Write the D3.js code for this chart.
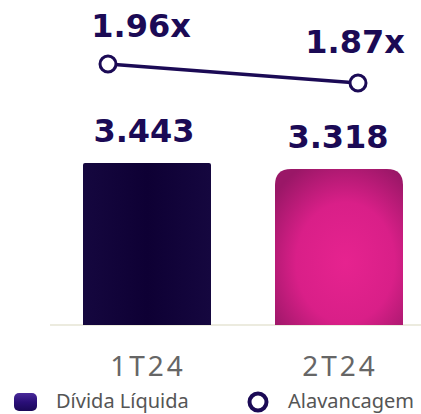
<!DOCTYPE html>
<html>
<head>
<meta charset="utf-8">
<script src="https://cdn.jsdelivr.net/npm/d3@7"></script>
<style>
  html, body { margin: 0; padding: 0; background: #fff; }
  svg { display: block; }
</style>
</head>
<body>
<script>
var categories = ["1T24", "2T24"];
var debt = [3443, 3318];
var debtLabels = ["3.443", "3.318"];
var leverage = [1.96, 1.87];
var leverageLabels = ["1.96x", "1.87x"];
var legendNames = ["Dívida Líquida", "Alavancagem"];

var width = 421, height = 414;
var baseY = 325;
var dark = "#1b0a55";

var svg = d3.select("body").append("svg")
  .attr("width", width)
  .attr("height", height);

var defs = svg.append("defs");
var pink = defs.append("radialGradient").attr("id", "pink")
  .attr("cx", "55%").attr("cy", "60%").attr("r", "70%");
pink.append("stop").attr("offset", "0%").attr("stop-color", "#e6238f");
pink.append("stop").attr("offset", "55%").attr("stop-color", "#d91f88");
pink.append("stop").attr("offset", "100%").attr("stop-color", "#9a1767");

var navy = defs.append("linearGradient").attr("id", "navy")
  .attr("x1", "0").attr("x2", "1").attr("y1", "0").attr("y2", "0");
navy.append("stop").attr("offset", "0%").attr("stop-color", "#15073f");
navy.append("stop").attr("offset", "50%").attr("stop-color", "#0e0034");
navy.append("stop").attr("offset", "100%").attr("stop-color", "#15073f");

var legGrad = defs.append("linearGradient").attr("id", "leg")
  .attr("x1", "0").attr("x2", "0").attr("y1", "0").attr("y2", "1");
legGrad.append("stop").attr("offset", "0%").attr("stop-color", "#4a2a9a");
legGrad.append("stop").attr("offset", "50%").attr("stop-color", "#2a0f78");
legGrad.append("stop").attr("offset", "100%").attr("stop-color", "#1a0858");

var x = d3.scaleBand().domain(categories).range([51, 435])
  .paddingInner(1 / 3).paddingOuter(1 / 6);
var y = d3.scaleLinear().domain([0, 3443]).range([baseY, 163]);

var xLine = d3.scalePoint().domain(categories).range([108, 358]);
var xLineLabel = d3.scalePoint().domain(categories).range([141, 355]);
var yLine = d3.scaleLinear().domain([1.87, 1.96]).range([83, 64]);

// baseline
svg.append("line")
  .attr("x1", 50).attr("x2", width)
  .attr("y1", baseY).attr("y2", baseY)
  .attr("stroke", "#ecebdf").attr("stroke-width", 2);

// bars
function barPath(x0, y0, w, h, r) {
  return "M" + x0 + "," + (y0 + h) +
    "V" + (y0 + r) +
    "Q" + x0 + "," + y0 + " " + (x0 + r) + "," + y0 +
    "H" + (x0 + w - r) +
    "Q" + (x0 + w) + "," + y0 + " " + (x0 + w) + "," + (y0 + r) +
    "V" + (y0 + h) + "Z";
}

svg.selectAll("path.bar").data(categories)
  .enter().append("path")
  .attr("class", "bar")
  .attr("d", (d, i) => barPath(x(d), y(debt[i]), x.bandwidth(), baseY - y(debt[i]), i === 0 ? 2 : 16))
  .attr("fill", (d, i) => i === 0 ? "url(#navy)" : "url(#pink)");

// bar value labels
svg.selectAll("text.val").data(categories)
  .enter().append("text")
  .attr("class", "val")
  .attr("x", (d, i) => x(d) + x.bandwidth() / 2 - (i === 0 ? 3 : 1))
  .attr("y", (d, i) => y(debt[i]) - 21)
  .attr("text-anchor", "middle")
  .attr("font-family", "DejaVu Sans")
  .attr("font-weight", "bold")
  .attr("font-size", 32)
  .attr("fill", dark)
  .text((d, i) => debtLabels[i]);

// leverage line
var line = d3.line()
  .x((d, i) => xLine(categories[i]))
  .y(d => yLine(d));

svg.append("path")
  .attr("d", line(leverage))
  .attr("fill", "none")
  .attr("stroke", dark)
  .attr("stroke-width", 3.5);

svg.selectAll("circle.pt").data(leverage)
  .enter().append("circle")
  .attr("class", "pt")
  .attr("cx", (d, i) => xLine(categories[i]))
  .attr("cy", d => yLine(d))
  .attr("r", 8)
  .attr("fill", "white")
  .attr("stroke", dark)
  .attr("stroke-width", 3);

svg.selectAll("text.lev").data(leverage)
  .enter().append("text")
  .attr("class", "lev")
  .attr("x", (d, i) => xLineLabel(categories[i]))
  .attr("y", (d, i) => yLine(d) - (i === 0 ? 27 : 30))
  .attr("text-anchor", "middle")
  .attr("font-family", "DejaVu Sans")
  .attr("font-weight", "bold")
  .attr("font-size", 32)
  .attr("fill", dark)
  .text((d, i) => leverageLabels[i]);

// x axis labels
svg.selectAll("text.cat").data(categories)
  .enter().append("text")
  .attr("class", "cat")
  .attr("x", d => x(d) + x.bandwidth() / 2 + 1)
  .attr("y", 376)
  .attr("text-anchor", "middle")
  .attr("font-family", "Noto Sans")
  .attr("font-size", 28)
  .attr("letter-spacing", 3)
  .attr("fill", "#666")
  .text(d => d);

// legend
svg.append("rect")
  .attr("x", 14).attr("y", 393)
  .attr("width", 23).attr("height", 18)
  .attr("rx", 5)
  .attr("fill", "url(#leg)");
svg.append("text")
  .attr("x", 56).attr("y", 408)
  .attr("font-family", "Noto Sans")
  .attr("font-size", 20)
  .attr("fill", "#555")
  .text(legendNames[0]);

svg.append("circle")
  .attr("cx", 258).attr("cy", 402)
  .attr("r", 8.5)
  .attr("fill", "white")
  .attr("stroke", dark)
  .attr("stroke-width", 4);
svg.append("text")
  .attr("x", 288).attr("y", 408)
  .attr("font-family", "Noto Sans")
  .attr("font-size", 20)
  .attr("fill", "#555")
  .text(legendNames[1]);
</script>
</body>
</html>
